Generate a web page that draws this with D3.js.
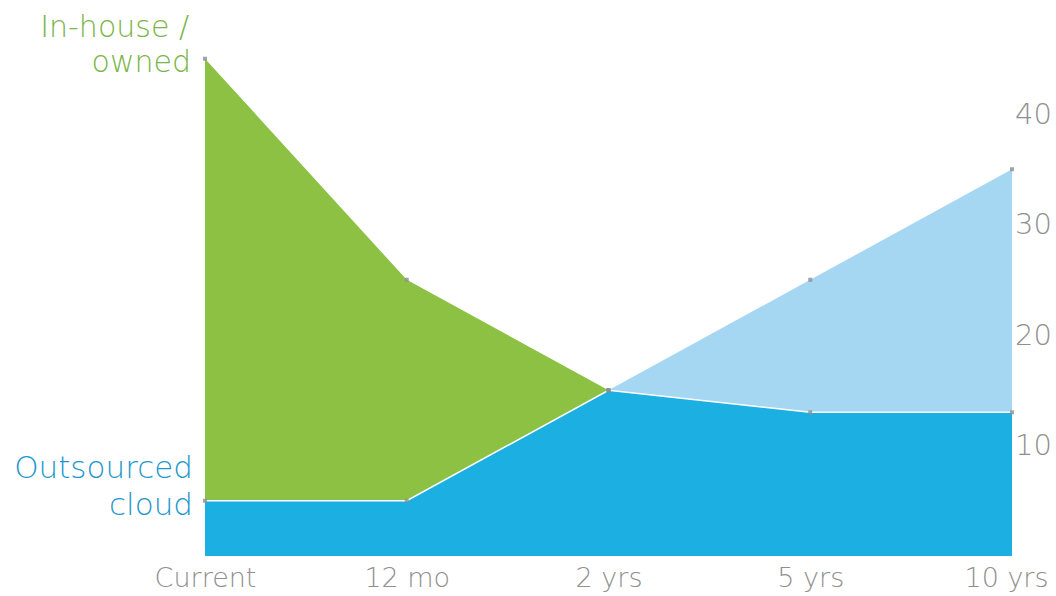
<!DOCTYPE html>
<html>
<head>
<meta charset="utf-8">
<script src="https://cdn.jsdelivr.net/npm/d3@7"></script>
<style>
  body { margin: 0; background: #fff; }
  svg { font-family: "DejaVu Sans", sans-serif; font-weight: 200; }
</style>
</head>
<body>
<div id="chart"></div>
<script>
var periods = ["Current", "12 mo", "2 yrs", "5 yrs", "10 yrs"];
var inHouse = [45, 25, 15, null, null];
var otherShare = [null, null, 15, 25, 35];
var outsourced = [5, 5, 15, 13, 13];
var yTicks = [10, 20, 30, 40];

var width = 1056, height = 596;

var svg = d3.select("#chart")
  .append("svg")
  .attr("width", width)
  .attr("height", height);

var x = d3.scalePoint()
  .domain(periods)
  .range([205, 1012]);

var y = d3.scaleLinear()
  .domain([0, 40])
  .range([556, 114]);

function series(vals) {
  return periods.map(function (p, i) { return { p: p, v: vals[i] }; })
    .filter(function (d) { return d.v != null; });
}

var area = d3.area()
  .x(function (d) { return x(d.p); })
  .y0(y(0))
  .y1(function (d) { return y(d.v); });

var line = d3.line()
  .x(function (d) { return x(d.p); })
  .y(function (d) { return y(d.v); });

svg.append("path")
  .datum(series(inHouse))
  .attr("d", area)
  .attr("fill", "#8cc143");

svg.append("path")
  .datum(series(otherShare))
  .attr("d", area)
  .attr("fill", "#a5d7f2");

svg.append("path")
  .datum(series(outsourced))
  .attr("d", area)
  .attr("fill", "#1cb0e2");

svg.append("path")
  .datum(series(outsourced))
  .attr("d", line)
  .attr("fill", "none")
  .attr("stroke", "#ffffff")
  .attr("stroke-width", 1.5);

// small grey markers on the data points
[inHouse, otherShare, outsourced].forEach(function (vals) {
  svg.selectAll(null)
    .data(series(vals))
    .enter()
    .append("rect")
    .attr("x", function (d) { return x(d.p) - 2; })
    .attr("y", function (d) { return y(d.v) - 2; })
    .attr("width", 4)
    .attr("height", 4)
    .attr("fill", "#8a8f94")
    .attr("opacity", 0.8);
});

// right axis
var yAxis = svg.append("g")
  .attr("transform", "translate(1012,0)")
  .call(d3.axisRight(y).tickValues(yTicks).tickSize(0).tickPadding(3));
yAxis.select(".domain").remove();
yAxis.selectAll("text")
  .attr("fill", "#8f8f8f")
  .style("font-size", "29px")
  .style("font-family", "'DejaVu Sans', sans-serif")
  .style("font-weight", 200);

// bottom axis
var xAxis = svg.append("g")
  .attr("transform", "translate(0,568)")
  .call(d3.axisBottom(x).tickSize(0).tickPadding(0));
xAxis.select(".domain").remove();
xAxis.selectAll("text")
  .attr("fill", "#8f8f8f")
  .style("font-size", "27px")
  .style("font-family", "'DejaVu Sans', sans-serif")
  .style("font-weight", 200)
  .attr("dx", function (d, i) { return i === periods.length - 1 ? -6 : 0; });

// series labels
svg.append("text")
  .attr("x", 189).attr("y", 37)
  .attr("text-anchor", "end")
  .attr("fill", "#79b547")
  .style("font-size", "30px")
  .text("In-house /");
svg.append("text")
  .attr("x", 191).attr("y", 72)
  .attr("text-anchor", "end")
  .attr("fill", "#79b547")
  .style("font-size", "30px")
  .text("owned");

svg.append("text")
  .attr("x", 193).attr("y", 478)
  .attr("text-anchor", "end")
  .attr("fill", "#1e98cb")
  .style("font-size", "31px")
  .text("Outsourced");
svg.append("text")
  .attr("x", 193).attr("y", 515)
  .attr("text-anchor", "end")
  .attr("fill", "#1e98cb")
  .style("font-size", "31px")
  .text("cloud");
</script>
</body>
</html>
